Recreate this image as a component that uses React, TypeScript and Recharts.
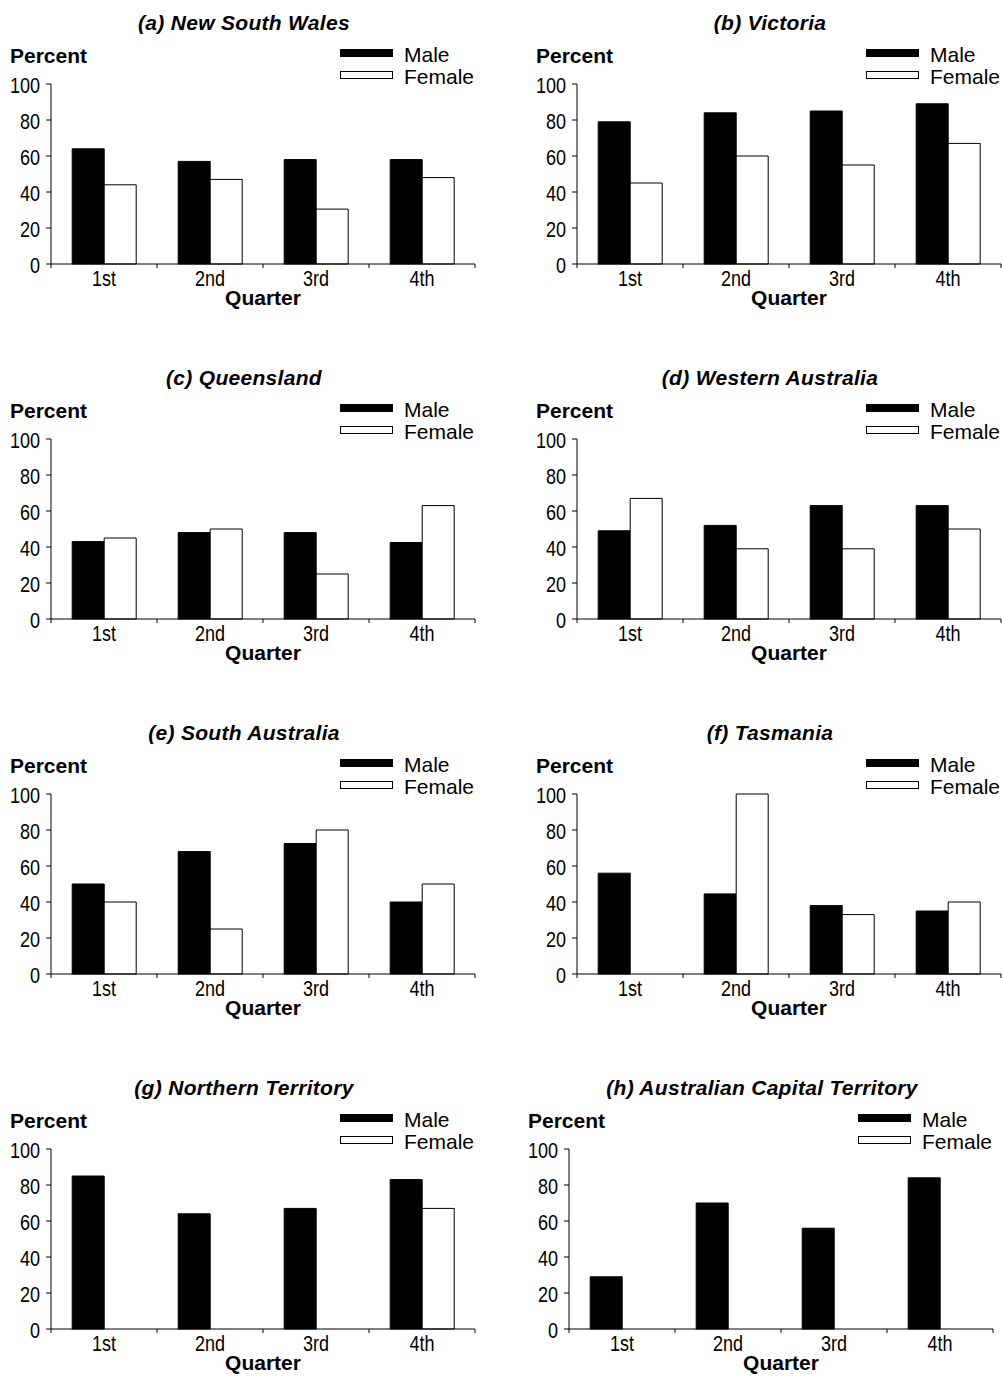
import React from "react";
import { BarChart, Bar, XAxis, YAxis, Legend } from "recharts";

// quarters shown on every panel
const quarters = ["1st", "2nd", "3rd", "4th"];
const yTicks = [0, 20, 40, 60, 80, 100];

// percent by state
const nswMale = [64, 57, 58, 58];
const nswFemale = [44, 47, 30.5, 48];
const vicMale = [79, 84, 85, 89];
const vicFemale = [45, 60, 55, 67];
const qldMale = [43, 48, 48, 42.5];
const qldFemale = [45, 50, 25, 63];
const waMale = [49, 52, 63, 63];
const waFemale = [67, 39, 39, 50];
const saMale = [50, 68, 72.5, 40];
const saFemale = [40, 25, 80, 50];
const tasMale = [56, 44.5, 38, 35];
const tasFemale = [null, 100, 33, 40];
const ntMale = [85, 64, 67, 83];
const ntFemale = [null, null, null, 67];
const actMale = [29, 70, 56, 84];
const actFemale = [null, null, null, null];

const titles = [
  "(a) New South Wales",
  "(b) Victoria",
  "(c) Queensland",
  "(d) Western Australia",
  "(e) South Australia",
  "(f) Tasmania",
  "(g) Northern Territory",
  "(h) Australian Capital Territory",
];
const maleSeries = [nswMale, vicMale, qldMale, waMale, saMale, tasMale, ntMale, actMale];
const femaleSeries = [nswFemale, vicFemale, qldFemale, waFemale, saFemale, tasFemale, ntFemale, actFemale];

const SANS = "'Liberation Sans', Arial, Helvetica, sans-serif";
// no narrow face installed, so tick text is squeezed horizontally
const NARROW_SCALE = 0.82;
const PLOT_W = 424;
const PLOT_TOP = 84;
const PLOT_H = 180;
const STEP = PLOT_W / quarters.length;

const QuarterTick = (props: any) => {
  const { x, y, payload, index } = props;
  const half = STEP / 2;
  return (
    <g>
      <line x1={x - half} x2={x - half} y1={y} y2={y + 4} stroke="#000" />
      {index === quarters.length - 1 && (
        <line x1={x + half} x2={x + half} y1={y} y2={y + 4} stroke="#000" />
      )}
      <text
        transform={`translate(${x},${y + 22}) scale(${NARROW_SCALE},1)`}
        textAnchor="middle"
        fontFamily={SANS}
        fontSize={22}
        fill="#000"
      >
        {payload.value}
      </text>
    </g>
  );
};

const PercentTick = (props: any) => {
  const { x, y, payload } = props;
  return (
    <text
      transform={`translate(${x},${y}) scale(${NARROW_SCALE},1)`}
      textAnchor="end"
      dy="0.4em"
      fontFamily={SANS}
      fontSize={22}
      fill="#000"
    >
      {payload.value}
    </text>
  );
};

const LegendBox = () => (
  <div style={{ position: "relative", width: 160, height: 50, fontFamily: SANS, fontSize: 21, lineHeight: 1 }}>
    <div style={{ position: "absolute", left: 0, top: 9, width: 53, height: 8, background: "#000" }} />
    <div style={{ position: "absolute", left: 64, top: 4 }}>Male</div>
    <div
      style={{
        position: "absolute", left: 0, top: 31, width: 53, height: 8,
        boxSizing: "border-box", border: "1px solid #000", background: "#fff",
      }}
    />
    <div style={{ position: "absolute", left: 64, top: 26 }}>Female</div>
  </div>
);

const Panel = ({ idx }: { idx: number }) => {
  const col = idx % 2;
  const row = Math.floor(idx / 2);
  const left = col === 0 ? 0 : 500;
  const top = row * 355;
  const axisX = col === 0 ? 51 : idx === 7 ? 69 : 77;
  const width = col === 0 ? 500 : 502;
  const data = quarters.map((q, i) => ({
    quarter: q,
    Male: maleSeries[idx][i],
    Female: femaleSeries[idx][i],
  }));
  const yAxisW = 45;
  return (
    <div style={{ position: "absolute", left, top, width, height: 355 }}>
      <div
        style={{
          position: "absolute", left: axisX + 193 - 250, width: 500, top: 12,
          textAlign: "center", fontFamily: SANS, fontSize: 21, lineHeight: 1,
          fontWeight: "bold", fontStyle: "italic", letterSpacing: 0.3,
        }}
      >
        {titles[idx]}
      </div>
      <div
        style={{
          position: "absolute", left: axisX - 41, top: 44.5, fontFamily: SANS,
          fontSize: 21, lineHeight: 1, fontWeight: "bold",
        }}
      >
        Percent
      </div>
      <div
        style={{
          position: "absolute", left: axisX + PLOT_W / 2 - 100, width: 200, top: 287,
          textAlign: "center", fontFamily: SANS, fontSize: 21, lineHeight: 1, fontWeight: "bold",
        }}
      >
        Quarter
      </div>
      <div style={{ position: "absolute", left: 0, top: 0 }}>
        <BarChart
          width={width}
          height={320}
          data={data}
          margin={{ top: PLOT_TOP, right: width - axisX - PLOT_W, left: axisX - yAxisW, bottom: 320 - PLOT_TOP - PLOT_H - 40 }}
          barCategoryGap="20%"
          barGap={0}
        >
          <XAxis
            dataKey="quarter"
            height={40}
            interval={0}
            tickLine={false}
            tickSize={0}
            tickMargin={0}
            axisLine={{ stroke: "#000" }}
            tick={<QuarterTick />}
          />
          <YAxis
            width={yAxisW}
            domain={[0, 100]}
            ticks={yTicks}
            interval={0}
            tickSize={5}
            tickMargin={6}
            axisLine={{ stroke: "#000" }}
            tickLine={{ stroke: "#000" }}
            tick={<PercentTick />}
          />
          <Legend
            layout="vertical"
            align="center"
            verticalAlign="middle"
            wrapperStyle={{ left: axisX + 289, top: 40, width: 160, height: 50 }}
            content={() => <LegendBox />}
          />
          <Bar dataKey="Male" fill="#000" stroke="#000" strokeWidth={1} isAnimationActive={false} />
          <Bar dataKey="Female" fill="#fff" stroke="#000" strokeWidth={1} isAnimationActive={false} />
        </BarChart>
      </div>
    </div>
  );
};

export default function App() {
  return (
    <div style={{ position: "absolute", left: 0, top: 0, width: 1002, height: 1376, background: "#fff", overflow: "hidden" }}>
      {titles.map((_, i) => (
        <Panel key={i} idx={i} />
      ))}
    </div>
  );
}
